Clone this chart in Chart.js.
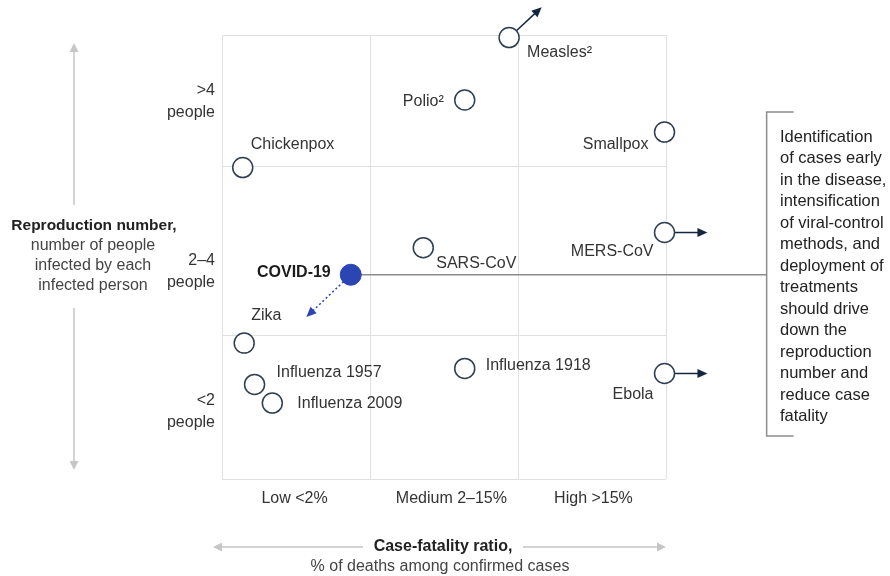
<!DOCTYPE html>
<html>
<head>
<meta charset="utf-8">
<title>Reproduction number vs case-fatality ratio</title>
<script src="https://cdn.jsdelivr.net/npm/chart.js@4.4.1/dist/chart.umd.min.js"></script>
<style>
  html, body { margin: 0; padding: 0; background: #fff; }
  #wrap { position: relative; width: 890px; height: 576px; }
</style>
</head>
<body>
<div id="wrap"><canvas id="chart"></canvas></div>
<script>
// =============================================
// Data
// =============================================
// x: position inside the case-fatality bands (0–1 low, 1–2 medium, 2–3 high)
// y: reproduction number (band edges at 2 and 4)
const diseases  = ['Measles²', 'Polio²', 'Smallpox', 'Chickenpox', 'SARS-CoV', 'MERS-CoV',
                   'Zika', 'Influenza 1957', 'Influenza 2009', 'Influenza 1918', 'Ebola'];
const fatalityX = [1.94, 1.64, 2.99, 0.14, 1.36, 2.99, 0.15, 0.22, 0.34, 1.64, 2.99];
const reproY    = [5.53, 4.79, 4.41, 3.99, 3.04, 3.22, 1.91, 1.42, 1.20, 1.61, 1.55];

const covidName = 'COVID-19';
const covidX    = [0.87];
const covidY    = [2.72];

const fatalityBands   = ['Low <2%', 'Medium 2–15%', 'High >15%'];
const fatalityLabelAt = [0.49, 1.55, 2.51];
const fatalityEdges   = [0, 1, 2, 3];

const reproBands   = [['<2', 'people'], ['2–4', 'people'], ['>4', 'people']];
const reproLabelAt = [1.10, 2.76, 4.77];
const reproEdges   = [0.3, 2, 4, 5.56];

// where the trend arrows point to
const trendFrom = ['Measles²', 'MERS-CoV', 'Ebola'];
const trendToX  = [2.16, 3.28, 3.28];
const trendToY  = [5.89, 3.22, 1.55];
const covidTrendTo = [0.57, 2.22];
const covidLineToX = 3.68;

const noteLines = ['Identification', 'of cases early', 'in the disease,', 'intensification',
  'of viral-control', 'methods, and', 'deployment of', 'treatments', 'should drive',
  'down the', 'reproduction', 'number and', 'reduce case', 'fatality'];

// =============================================
// Style
// =============================================
const FONT      = '"Liberation Sans", Arial, sans-serif';
const TEXT      = '#333333';
const RING      = '#2f3e50';
const COVID     = '#2b45b2';
const ARROW     = '#14273f';
const GRID      = '#e0e0e0';
const AXIS_GREY = '#c6c6c6';
const RADIUS    = 10;

// label offsets from each circle centre
const labelPlacement = {
  'Measles²':       { dx: 18,  dy: 15,  align: 'left'  },
  'Polio²':         { dx: -21, dy: 2,   align: 'right' },
  'Smallpox':       { dx: -16, dy: 13,  align: 'right' },
  'Chickenpox':     { dx: 8,   dy: -23, align: 'left'  },
  'SARS-CoV':       { dx: 13,  dy: 16,  align: 'left'  },
  'MERS-CoV':       { dx: -11, dy: 19,  align: 'right' },
  'Zika':           { dx: 7,   dy: -28, align: 'left'  },
  'Influenza 1957': { dx: 22,  dy: -12, align: 'left'  },
  'Influenza 2009': { dx: 25,  dy: 1,   align: 'left'  },
  'Influenza 1918': { dx: 21,  dy: -3,  align: 'left'  },
  'Ebola':          { dx: -11, dy: 21,  align: 'right' },
  'COVID-19':       { dx: -20, dy: -2,  align: 'right' }
};

Chart.defaults.font.family = FONT;

// =============================================
// Drawing helpers
// =============================================
function drawArrow(ctx, x1, y1, x2, y2, opts) {
  const ang  = Math.atan2(y2 - y1, x2 - x1);
  const head = opts.head || 9;
  const half = opts.half || 4;
  const c = Math.cos(ang), s = Math.sin(ang);
  ctx.save();
  ctx.strokeStyle = opts.color;
  ctx.fillStyle   = opts.color;
  ctx.lineWidth   = opts.width || 1.5;
  if (opts.dash) ctx.setLineDash(opts.dash);
  ctx.beginPath();
  ctx.moveTo(x1, y1);
  ctx.lineTo(x2 - c * head * 0.8, y2 - s * head * 0.8);
  ctx.stroke();
  ctx.setLineDash([]);
  ctx.beginPath();
  ctx.moveTo(x2, y2);
  ctx.lineTo(x2 - c * head + s * half, y2 - s * head - c * half);
  ctx.lineTo(x2 - c * head - s * half, y2 - s * head + c * half);
  ctx.closePath();
  ctx.fill();
  ctx.restore();
}

function arrowFromCircle(ctx, cx, cy, tx, ty, opts) {
  const ang = Math.atan2(ty - cy, tx - cx);
  drawArrow(ctx, cx + Math.cos(ang) * RADIUS, cy + Math.sin(ang) * RADIUS, tx, ty, opts);
}

function greyAxisArrow(ctx, x1, y1, x2, y2) {
  drawArrow(ctx, x1, y1, x2, y2, { color: AXIS_GREY, width: 1.5, head: 9, half: 4.5 });
}

// =============================================
// Plugin: trend lines, labels, axis titles, note
// =============================================
const decorPlugin = {
  id: 'decor',
  beforeDatasetsDraw(chart) {
    const { ctx } = chart;
    const xs = chart.scales.x, ys = chart.scales.y;

    // COVID-19 line to the note bracket
    const cx = xs.getPixelForValue(covidX[0]);
    const cy = ys.getPixelForValue(covidY[0]);
    const bx = xs.getPixelForValue(covidLineToX);
    ctx.save();
    ctx.strokeStyle = '#8c8c8c';
    ctx.lineWidth = 1.5;
    ctx.beginPath();
    ctx.moveTo(cx, cy);
    ctx.lineTo(bx, cy);
    ctx.stroke();

    // bracket
    ctx.beginPath();
    ctx.moveTo(bx + 27, 112);
    ctx.lineTo(bx, 112);
    ctx.lineTo(bx, 436);
    ctx.lineTo(bx + 27, 436);
    ctx.stroke();
    ctx.restore();

    // trend arrows
    trendFrom.forEach((name, i) => {
      const k = diseases.indexOf(name);
      arrowFromCircle(ctx,
        xs.getPixelForValue(fatalityX[k]), ys.getPixelForValue(reproY[k]),
        xs.getPixelForValue(trendToX[i]), ys.getPixelForValue(trendToY[i]),
        { color: ARROW, width: 1.5, head: 10, half: 4.5 });
    });

    arrowFromCircle(ctx, cx, cy,
      xs.getPixelForValue(covidTrendTo[0]), ys.getPixelForValue(covidTrendTo[1]),
      { color: COVID, width: 1.5, head: 10, half: 4.5, dash: [2, 2.5] });
  },

  afterDatasetsDraw(chart) {
    const { ctx, chartArea } = chart;
    ctx.save();
    ctx.textBaseline = 'middle';

    // point labels
    chart.data.datasets.forEach((ds, di) => {
      const meta = chart.getDatasetMeta(di);
      meta.data.forEach((pt, i) => {
        const name = ds.names[i];
        const p = labelPlacement[name];
        ctx.font = (ds.bold ? 'bold ' : '') + '16px ' + FONT;
        ctx.fillStyle = ds.bold ? '#1c1c1c' : TEXT;
        ctx.textAlign = p.align;
        ctx.fillText(name, pt.x + p.dx, pt.y + p.dy);
      });
    });

    // y axis title with double arrow
    const ax = 74;
    greyAxisArrow(ctx, ax, 205, ax, chartArea.top + 8);
    greyAxisArrow(ctx, ax, 308, ax, chartArea.bottom - 9);
    ctx.textAlign = 'center';
    ctx.fillStyle = '#222';
    ctx.font = 'bold 15.5px ' + FONT;
    ctx.fillText('Reproduction number,', 94, 226);
    ctx.font = '16px ' + FONT;
    ctx.fillStyle = '#444';
    ['number of people', 'infected by each', 'infected person'].forEach((t, i) => {
      ctx.fillText(t, 93, 246 + i * 19.7);
    });

    // x axis title with double arrow
    const ay = 547;
    greyAxisArrow(ctx, 363, ay, chartArea.left - 9, ay);
    greyAxisArrow(ctx, 523, ay, chartArea.right, ay);
    ctx.fillStyle = '#222';
    ctx.font = 'bold 16px ' + FONT;
    ctx.fillText('Case-fatality ratio,', 443, ay);
    ctx.fillStyle = '#444';
    ctx.font = '16px ' + FONT;
    ctx.fillText('% of deaths among confirmed cases', 440, 567);

    // note
    ctx.textAlign = 'left';
    ctx.fillStyle = '#222';
    ctx.font = '16.5px ' + FONT;
    noteLines.forEach((t, i) => ctx.fillText(t, 780, 137 + i * 21.5));

    ctx.restore();
  }
};

// =============================================
// Chart
// =============================================
const pointData = fatalityX.map((x, i) => ({ x, y: reproY[i] }));
const covidData = covidX.map((x, i) => ({ x, y: covidY[i] }));

new Chart(document.getElementById('chart'), {
  type: 'scatter',
  data: {
    datasets: [
      {
        label: 'Diseases',
        names: diseases,
        data: pointData,
        pointRadius: RADIUS,
        pointBackgroundColor: '#ffffff',
        pointBorderColor: RING,
        pointBorderWidth: 1.5,
        clip: false
      },
      {
        label: covidName,
        names: [covidName],
        bold: true,
        data: covidData,
        pointRadius: 10.5,
        pointBackgroundColor: COVID,
        pointBorderColor: COVID,
        pointBorderWidth: 1,
        clip: false
      }
    ]
  },
  options: {
    responsive: true,
    maintainAspectRatio: false,
    animation: false,
    events: [],
    layout: { autoPadding: false, padding: { top: 35, right: 224, left: 0, bottom: 0 } },
    plugins: { legend: { display: false }, tooltip: { enabled: false } },
    scales: {
      x: {
        type: 'linear', position: 'bottom', min: 0, max: 3,
        afterBuildTicks: (s) => { s.ticks = fatalityEdges.map(v => ({ value: v })); },
        afterFit: (s) => { s.height = 0; },
        grid: { color: GRID, lineWidth: 1, drawTicks: false },
        border: { display: false },
        ticks: { display: false }
      },
      xLab: {
        type: 'linear', position: 'bottom', min: 0, max: 3,
        afterBuildTicks: (s) => { s.ticks = fatalityLabelAt.map(v => ({ value: v })); },
        afterFit: (s) => { s.height = 97; },
        grid: { display: false, drawTicks: false },
        border: { display: false },
        ticks: {
          padding: 10, maxRotation: 0, autoSkip: false,
          color: TEXT, font: { size: 16 },
          callback: (v, i) => fatalityBands[i]
        }
      },
      y: {
        type: 'linear', position: 'left', min: reproEdges[0], max: reproEdges[3],
        afterBuildTicks: (s) => { s.ticks = reproEdges.map(v => ({ value: v })); },
        afterFit: (s) => { s.width = 0; },
        grid: { color: GRID, lineWidth: 1, drawTicks: false },
        border: { display: false },
        ticks: { display: false }
      },
      yLab: {
        type: 'linear', position: 'left', min: reproEdges[0], max: reproEdges[3],
        afterBuildTicks: (s) => { s.ticks = reproLabelAt.map(v => ({ value: v })); },
        afterFit: (s) => { s.width = 222; },
        grid: { display: false, drawTicks: false },
        border: { display: false },
        ticks: {
          padding: 7, autoSkip: false,
          color: TEXT, font: { size: 16, lineHeight: 1.35 },
          callback: (v, i) => reproBands[i]
        }
      }
    }
  },
  plugins: [decorPlugin]
});
</script>
</body>
</html>
